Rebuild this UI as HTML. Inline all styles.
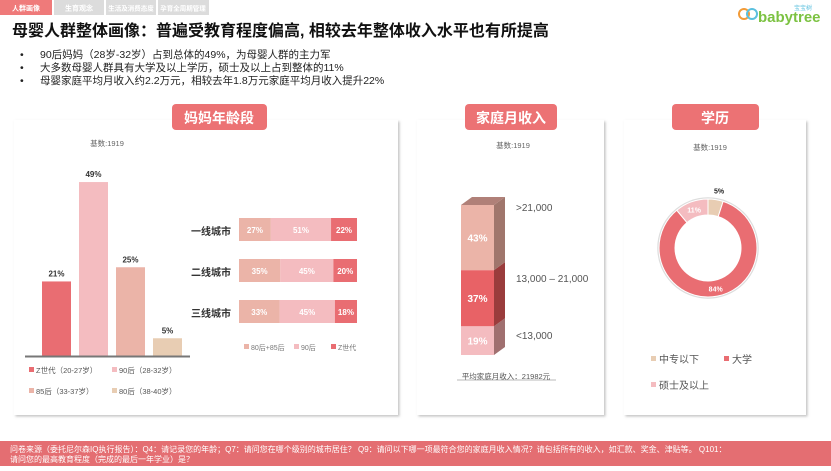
<!DOCTYPE html>
<html><head><meta charset="utf-8"><style>
body{margin:0;width:831px;height:466px;overflow:hidden;background:#fff;font-family:"Liberation Sans","Noto Sans CJK SC",sans-serif}
svg text{font-family:"Liberation Sans","Noto Sans CJK SC",sans-serif}
</style></head><body>
<svg id="s" width="831" height="466" viewBox="0 0 831 466" xmlns="http://www.w3.org/2000/svg">
<defs><filter id="sh" x="-5%" y="-5%" width="110%" height="110%"><feDropShadow dx="1.5" dy="1.5" stdDeviation="1.2" flood-color="#999" flood-opacity="0.6"/></filter></defs>
<g>
<rect x="0" y="0" width="52" height="15" fill="#ef7a7a"/>
<text x="26" y="10.5" font-size="7" fill="#fff" text-anchor="middle" font-weight="bold">人群画像</text>
<rect x="54" y="0" width="50" height="15" fill="#dcdcdc"/>
<text x="79" y="10.5" font-size="7" fill="#fff" text-anchor="middle" font-weight="bold">生育观念</text>
<rect x="106" y="0" width="50" height="15" fill="#dcdcdc"/>
<text x="131" y="10.5" font-size="6.5" fill="#fff" text-anchor="middle" font-weight="bold">生活及消费态度</text>
<rect x="158" y="0" width="51" height="15" fill="#dcdcdc"/>
<text x="183" y="10.5" font-size="6.5" fill="#fff" text-anchor="middle" font-weight="bold">孕育全周期管理</text>
</g>
<g>
<circle cx="744" cy="14" r="5" fill="none" stroke="#f29b38" stroke-width="2"/>
<circle cx="752" cy="14" r="5" fill="none" stroke="#5bc0de" stroke-width="2"/>
<text x="758" y="22" font-size="15" fill="#7cc242" font-weight="bold">babytree</text>
<text x="812" y="10" font-size="6" fill="#5bc0de" text-anchor="end">宝宝树</text>
</g>
<text x="12" y="36" font-size="16" font-weight="bold" fill="#111">母婴人群整体画像：普遍受教育程度偏高, 相较去年整体收入水平也有所提高</text>
<g font-size="10.5" fill="#222">
<text x="20" y="58">•</text><text x="40" y="58">90后妈妈（28岁-32岁）占到总体的49%，为母婴人群的主力军</text>
<text x="20" y="71">•</text><text x="40" y="71">大多数母婴人群具有大学及以上学历，硕士及以上占到整体的11%</text>
<text x="20" y="84">•</text><text x="40" y="84">母婴家庭平均月收入约2.2万元，相较去年1.8万元家庭平均月收入提升22%</text>
</g>
<rect x="14" y="120" width="384" height="295" fill="#fff" filter="url(#sh)"/>
<rect x="417" y="120" width="187" height="295" fill="#fff" filter="url(#sh)"/>
<rect x="624" y="120" width="182" height="295" fill="#fff" filter="url(#sh)"/>
<rect x="172" y="104" width="95" height="26" rx="4" fill="#ec7274"/>
<text x="219" y="123" font-size="14" font-weight="bold" fill="#fff" text-anchor="middle">妈妈年龄段</text>
<rect x="465" y="104" width="92" height="26" rx="4" fill="#ec7274"/>
<text x="511" y="123" font-size="14" font-weight="bold" fill="#fff" text-anchor="middle">家庭月收入</text>
<rect x="672" y="104" width="87" height="26" rx="4" fill="#ec7274"/>
<text x="715" y="123" font-size="14" font-weight="bold" fill="#fff" text-anchor="middle">学历</text>
<text x="107" y="146" font-size="7.5" fill="#666" text-anchor="middle">基数:1919</text>
<text x="513" y="148" font-size="7.5" fill="#666" text-anchor="middle">基数:1919</text>
<text x="710" y="150" font-size="7.5" fill="#666" text-anchor="middle">基数:1919</text>
<g id="age"></g><g id="city"></g><g id="inc"></g><g id="edu"></g>
<rect x="0" y="441" width="831" height="25" fill="#e46e72"/>
<text font-size="8" fill="#fff"><tspan x="10" y="452">问卷来源（委托尼尔森IQ执行报告）：Q4：请记录您的年龄；Q7：请问您在哪个级别的城市居住？ Q9：请问以下哪一项最符合您的家庭月收入情况？请包括所有的收入，如汇款、奖金、津贴等。 Q101：</tspan><tspan x="10" y="462">请问您的最高教育程度（完成的最后一年学业）是？</tspan></text>
</svg>
<script>
const ageCats=["Z世代（20-27岁）","90后（28-32岁）","85后（33-37岁）","80后（38-40岁）"];
const ageVals=[21,49,25,5];
const ageColors=["#e96d72","#f4bcc0","#ebb4a8","#e8cdb3"];
const cityCats=["一线城市","二线城市","三线城市"];
const city8085=[27,35,33];
const city90=[51,45,45];
const cityZ=[22,20,18];
const cityLegend=["80后+85后","90后","Z世代"];
const incCats=["<13,000","13,000 – 21,000",">21,000"];
const incVals=[19,37,43];
const eduCats=["中专以下","大学","硕士及以上"];
const eduVals=[5,84,11];
const NS="http://www.w3.org/2000/svg";
function mk(p,t,a,txt){const e=document.createElementNS(NS,t);for(const k in a)e.setAttribute(k,a[k]);if(txt!==undefined)e.textContent=txt;p.appendChild(e);return e;}
const ga=document.getElementById('age');
const base=356,pxPer=3.55,bx=x=>42+x*37;
ageVals.forEach((v,i)=>{
 const h=v*pxPer;
 const r=mk(ga,'rect',{x:bx(i),y:base-h,width:29,height:h,fill:ageColors[i]});
 
 
 const t=mk(ga,'text',{x:bx(i)+14.5,y:base-h-5,'font-size':8,'font-weight':'bold',fill:'#333','text-anchor':'middle'},v+'%');
 
 
});
const ax=mk(ga,'line',{x1:25,x2:190,y1:356.5,y2:356.5,stroke:'#777','stroke-width':2});


ageCats.forEach((c,i)=>{
 const lx=29+(i%2)*83,ly=373+Math.floor(i/2)*21;
 const g=mk(ga,'g',{});
 
 
 mk(g,'rect',{x:lx,y:ly-6,width:5,height:5,fill:ageColors[i]});
 mk(g,'text',{x:lx+7,y:ly,'font-size':7.5,fill:'#555'},c);
});
const gc=document.getElementById('city');
const cx0=239,cw=118,cColors=["#ebb4a8","#f4bcc0","#e96d72"];
cityCats.forEach((c,i)=>{
 const y=218+i*41;
 const t=mk(gc,'text',{x:231,y:y+17,'font-size':10,'font-weight':'bold',fill:'#333','text-anchor':'end'},c);
 
 
 const vals=[city8085[i],city90[i],cityZ[i]];const tot=vals[0]+vals[1]+vals[2];
 let x=cx0;
 vals.forEach((v,j)=>{
  const w=v/tot*cw;
  const r=mk(gc,'rect',{x:x,y:y,width:w,height:23,fill:cColors[j]});
  
  
  mk(gc,'text',{x:x+w/2,y:y+15,'font-size':8,'font-weight':'bold',fill:'#fff','text-anchor':'middle'},v+'%');
  x+=w;
 });
});
cityLegend.forEach((c,j)=>{
 const lx=[244,294,331][j];
 const g=mk(gc,'g',{});
 
 
 mk(g,'rect',{x:lx,y:344,width:5,height:5,fill:cColors[j]});
 mk(g,'text',{x:lx+7,y:350,'font-size':7,fill:'#777'},c);
});
const gi=document.getElementById('inc');
const ibot=355,itot=150,fx=461,fw=33,dx=11,dy=8;
const incFront=["#f4bcc0","#e86266","#ebb4a8"],incSide=["#a07070","#9a3c3c","#a0766c"];
const incLabelY=[339,282,211];
let iy=ibot;const sum=incVals.reduce((a,b)=>a+b,0);
incVals.forEach((v,i)=>{
 const h=v/sum*itot;const top=iy-h;
 const r=mk(gi,'rect',{x:fx,y:top,width:fw,height:h,fill:incFront[i]});
 
 
 mk(gi,'polygon',{points:`${fx+fw},${top} ${fx+fw+dx},${top-dy} ${fx+fw+dx},${iy-dy} ${fx+fw},${iy}`,fill:incSide[i]});
 mk(gi,'text',{x:fx+fw/2,y:(top+iy)/2+4,'font-size':10,'font-weight':'bold',fill:'#fff','text-anchor':'middle'},v+'%');
 const l=mk(gi,'text',{x:516,y:incLabelY[i],'font-size':10,fill:'#555'},incCats[i]);
 
 
 iy=top;
});
mk(gi,'polygon',{points:`${fx},${iy} ${fx+dx},${iy-dy} ${fx+fw+dx},${iy-dy} ${fx+fw},${iy}`,fill:'#b08078'});
const av=mk(gi,'text',{x:506,y:379,'font-size':7.5,fill:'#555','text-anchor':'middle'},'平均家庭月收入：21982元');


mk(gi,'line',{x1:457,x2:556,y1:380,y2:380,stroke:'#777','stroke-width':0.6});
const ge=document.getElementById('edu');
const dcx=708,dcy=248,R=49,r0=33;
const eduColors=["#e8cdb3","#e96d72","#f4bcc0"];
mk(ge,'circle',{cx:dcx,cy:dcy,r:R+1,fill:'none',stroke:'#ddd','stroke-width':1.5});
let a0=0;const et=eduVals.reduce((a,b)=>a+b,0);
const pt=(a,r)=>[dcx+r*Math.sin(a),dcy-r*Math.cos(a)];
eduVals.forEach((v,i)=>{
 const a1=a0+v/et*2*Math.PI;const lg=(a1-a0)>Math.PI?1:0;
 const [x1,y1]=pt(a0,R),[x2,y2]=pt(a1,R),[x3,y3]=pt(a1,r0),[x4,y4]=pt(a0,r0);
 const p=mk(ge,'path',{d:`M${x1},${y1}A${R},${R} 0 ${lg} 1 ${x2},${y2}L${x3},${y3}A${r0},${r0} 0 ${lg} 0 ${x4},${y4}Z`,fill:eduColors[i],stroke:'#fff','stroke-width':1});
 
 
 const am=(a0+a1)/2;
 if(i===0){const [lx,ly]=pt(am,R+9);mk(ge,'text',{x:lx+2,y:ly+3,'font-size':7,'font-weight':'bold',fill:'#222','text-anchor':'middle'},v+'%');}
 else{const [lx,ly]=pt(am,(R+r0)/2);mk(ge,'text',{x:lx,y:ly+3,'font-size':7,'font-weight':'bold',fill:'#fff','text-anchor':'middle'},v+'%');}
 a0=a1;
});
eduCats.forEach((c,i)=>{
 const lx=[651,724,651][i],ly=[363,363,389][i];
 const g=mk(ge,'g',{});
 
 
 mk(g,'rect',{x:lx,y:ly-7,width:5,height:5,fill:eduColors[i]});
 mk(g,'text',{x:lx+8,y:ly,'font-size':10,fill:'#555'},c);
});
</script>
</body></html>
